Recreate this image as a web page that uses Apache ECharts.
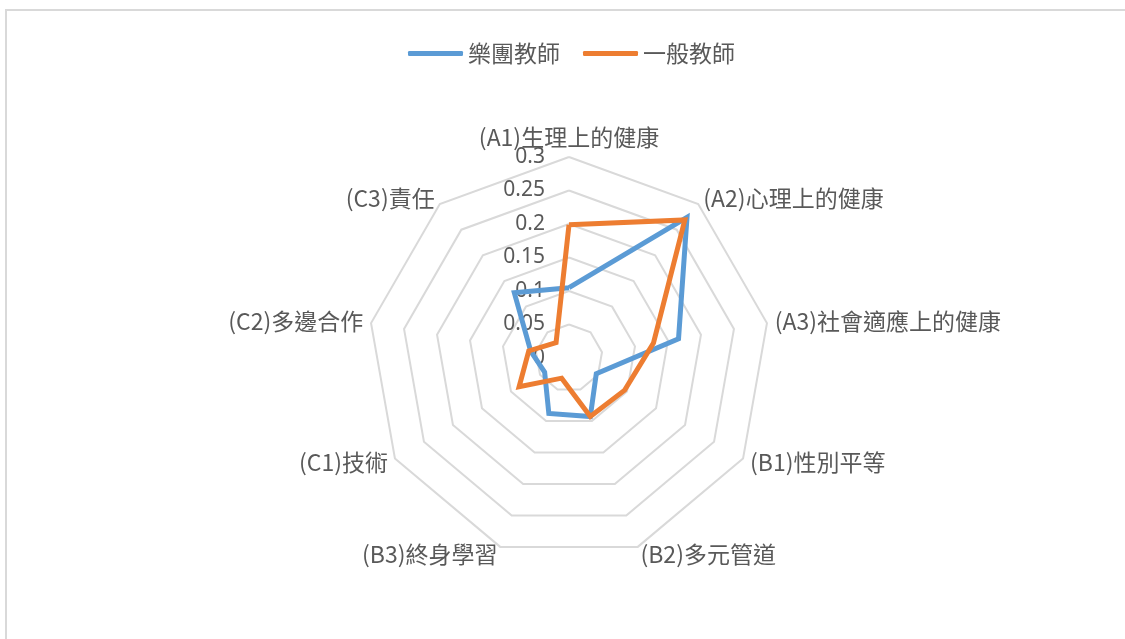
<!DOCTYPE html>
<html>
<head>
<meta charset="utf-8">
<script src="https://cdn.jsdelivr.net/npm/echarts@6/dist/echarts.min.js"></script>
<style>
html,body{margin:0;padding:0;background:#fff;}
#chart{width:1125px;height:639px;}
</style>
</head>
<body>
<div id="chart"></div>
<script>
const categories = ['(A1)生理上的健康','(A2)心理上的健康','(A3)社會適應上的健康','(B1)性別平等','(B2)多元管道','(B3)終身學習','(C1)技術','(C2)多邊合作','(C3)責任'];
const seriesNames = ['樂團教師','一般教師'];
const bandTeachers = [0.105, 0.274, 0.166, 0.047, 0.093, 0.088, 0.042, 0.058, 0.127];
const generalTeachers = [0.199, 0.269, 0.128, 0.096, 0.093, 0.032, 0.086, 0.061, 0.030];
const axisMin = 0, axisMax = 0.3, axisStep = 0.05;
const colors = ['#5B9BD5', '#ED7D31'];

const center = [569, 358];
const radius = 201;
const cjk = '"Noto Sans CJK TC", "Noto Sans", sans-serif';

// ECharts radar runs counter-clockwise; reorder so categories run clockwise from the top.
const order = [0].concat(categories.map((_, i) => i).slice(1).reverse());
const clockwise = arr => order.map(i => arr[i]);

const chart = echarts.init(document.getElementById('chart'));
chart.setOption({
  backgroundColor: '#ffffff',
  animation: false,
  color: colors,
  graphic: [{
    type: 'rect',
    shape: {x: 6, y: 10, width: 1300, height: 800},
    style: {fill: 'none', stroke: '#d9d9d9', lineWidth: 2},
    silent: true
  }],
  legend: {
    data: seriesNames,
    left: 403,
    top: 37,
    icon: 'roundRect',
    itemWidth: 55,
    itemHeight: 5,
    itemGap: 23,
    textStyle: {color: '#595959', fontSize: 23, fontFamily: cjk}
  },
  radar: {
    center: center,
    radius: radius,
    startAngle: 90,
    shape: 'polygon',
    splitNumber: (axisMax - axisMin) / axisStep,
    nameGap: 8,
    axisName: {color: '#595959', fontSize: 23, fontFamily: cjk},
    indicator: clockwise(categories).map(c => ({name: c, min: axisMin, max: axisMax})),
    axisLine: {show: false},
    axisTick: {show: false},
    axisLabel: {show: false},
    splitArea: {show: false},
    splitLine: {lineStyle: {color: '#d9d9d9', width: 2}}
  },
  polar: {center: center, radius: radius},
  angleAxis: {show: false, startAngle: 90, min: 0, max: 360},
  radiusAxis: {
    min: axisMin, max: axisMax, interval: axisStep,
    axisLine: {show: false}, axisTick: {show: false}, splitLine: {show: false},
    axisLabel: {show: true, margin: 24, color: '#595959', fontSize: 21, fontFamily: '"Noto Sans", sans-serif',
      formatter: v => String(Math.round(v * 100) / 100)}
  },
  series: [{
    type: 'radar',
    symbol: 'none',
    lineStyle: {width: 5, join: 'miter'},
    data: [
      {name: seriesNames[0], value: clockwise(bandTeachers), lineStyle: {color: colors[0], width: 5}, itemStyle: {color: colors[0]}},
      {name: seriesNames[1], value: clockwise(generalTeachers), lineStyle: {color: colors[1], width: 5}, itemStyle: {color: colors[1]}}
    ]
  }]
});
</script>
</body>
</html>
